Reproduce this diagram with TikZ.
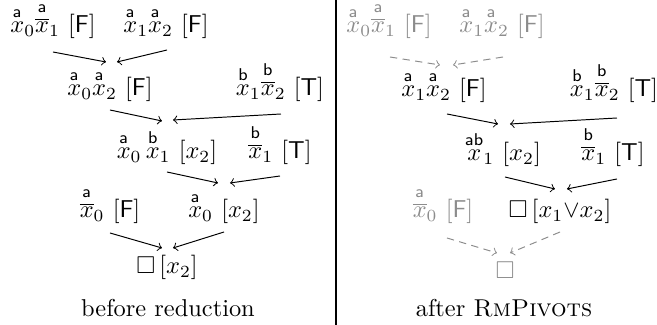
\documentclass[tikz,border=0pt]{standalone}
\usepackage{amsmath,amssymb}
\begin{document}
\begin{tikzpicture}[x=0.41pt,y=-0.41pt,
  cl/.style={inner sep=0pt,anchor=base},
  gcl/.style={cl,text=black!45},
  arr/.style={->,line width=0.4pt},
  garr/.style={->,line width=0.4pt,draw=black!45,dash pattern=on 3pt off 2.2pt}]
\useasboundingbox (0,0) rectangle (657,325);
% separator
\draw[line width=0.45pt] (336,0) coordinate (ltop) -- (336,325) coordinate (lbot);
% ---------- left panel ----------
\node[cl] (n1) at (53,33) {$\overset{\mathsf a}{x}_0\overset{\mathsf a}{\overline{x}}_1\ [\mathsf{F}]$};
\node[cl] (n2) at (166,33) {$\overset{\mathsf a}{x}_1\overset{\mathsf a}{x}_2\ [\mathsf{F}]$};
\node[cl] (n3) at (110,96) {$\overset{\mathsf a}{x}_0\overset{\mathsf a}{x}_2\ [\mathsf{F}]$};
\node[cl] (n4) at (280,96) {$\overset{\mathsf b}{x}_1\overset{\mathsf b}{\overline{x}}_2\ [\mathsf{T}]$};
\node[cl] (n5) at (167,159) {$\overset{\mathsf a}{x}_0\,\overset{\mathsf b}{x}_1\ [x_2]$};
\node[cl] (n6) at (280,159) {$\overset{\mathsf b}{\overline{x}}_1\ [\mathsf{T}]$};
\node[cl] (n7) at (110,218) {$\overset{\mathsf a}{\overline{x}}_0\ [\mathsf{F}]$};
\node[cl] (n8) at (224,218) {$\overset{\mathsf a}{x}_0\ [x_2]$};
\node[cl] (n9) at (167,274) {$\square\,[x_2]$};
\node[cl] (capL) at (168,317) {before reduction};
\draw[arr] ([shift={(0,19)}]n1.base) -- ([shift={(-4,-34)}]n3.base);
\draw[arr] ([shift={(1,17)}]n2.base) -- ([shift={(7,-34)}]n3.base);
\draw[arr] ([shift={(0,14)}]n3.base) -- ([shift={(-5,-38)}]n5.base);
\draw[arr] ([shift={(1,18)}]n4.base) -- ([shift={(6,-39)}]n5.base);
\draw[arr] ([shift={(0,13)}]n5.base) -- ([shift={(-6,-35)}]n8.base);
\draw[arr] ([shift={(0,17)}]n6.base) -- ([shift={(6,-35)}]n8.base);
\draw[arr] ([shift={(0,15)}]n7.base) -- ([shift={(-5,-26)}]n9.base);
\draw[arr] ([shift={(0,14)}]n8.base) -- ([shift={(6,-26)}]n9.base);
% ---------- right panel ----------
\node[gcl] (r1) at (389,33) {$\overset{\mathsf a}{x}_0\overset{\mathsf a}{\overline{x}}_1\ [\mathsf{F}]$};
\node[gcl] (r2) at (502,33) {$\overset{\mathsf a}{x}_1\overset{\mathsf a}{x}_2\ [\mathsf{F}]$};
\node[cl] (r3) at (444,97) {$\overset{\mathsf a}{x}_1\overset{\mathsf a}{x}_2\ [\mathsf{F}]$};
\node[cl] (r4) at (614,97) {$\overset{\mathsf b}{x}_1\overset{\mathsf b}{\overline{x}}_2\ [\mathsf{T}]$};
\node[cl] (r5) at (503,161) {$\overset{\mathsf{ab}}{x}_1\ [x_2]$};
\node[cl] (r6) at (613,161) {$\overset{\mathsf b}{\overline{x}}_1\ [\mathsf{T}]$};
\node[gcl] (r7) at (443,218) {$\overset{\mathsf a}{\overline{x}}_0\ [\mathsf{F}]$};
\node[cl] (r8) at (560,218) {$\square\,[x_1{\vee}x_2]$};
\node[gcl] (r9) at (505,279) {$\square$};
\node[cl] (capR) at (504,317) {after \textsc{RmPivots}};
\draw[garr] ([shift={(1,24)}]r1.base) -- ([shift={(-4,-32)}]r3.base);
\draw[garr] ([shift={(1,24)}]r2.base) -- ([shift={(9,-32)}]r3.base);
\draw[arr] ([shift={(3,17)}]r3.base) -- ([shift={(-5,-37)}]r5.base);
\draw[arr] ([shift={(3,21)}]r4.base) -- ([shift={(7,-37)}]r5.base);
\draw[arr] ([shift={(2,16)}]r5.base) -- ([shift={(-5,-29)}]r8.base);
\draw[arr] ([shift={(4,18)}]r6.base) -- ([shift={(7,-29)}]r8.base);
\draw[garr] ([shift={(4,20)}]r7.base) -- ([shift={(-8,-26)}]r9.base);
\draw[garr] ([shift={(0,14)}]r8.base) -- ([shift={(5,-26)}]r9.base);
\end{tikzpicture}
\end{document}
